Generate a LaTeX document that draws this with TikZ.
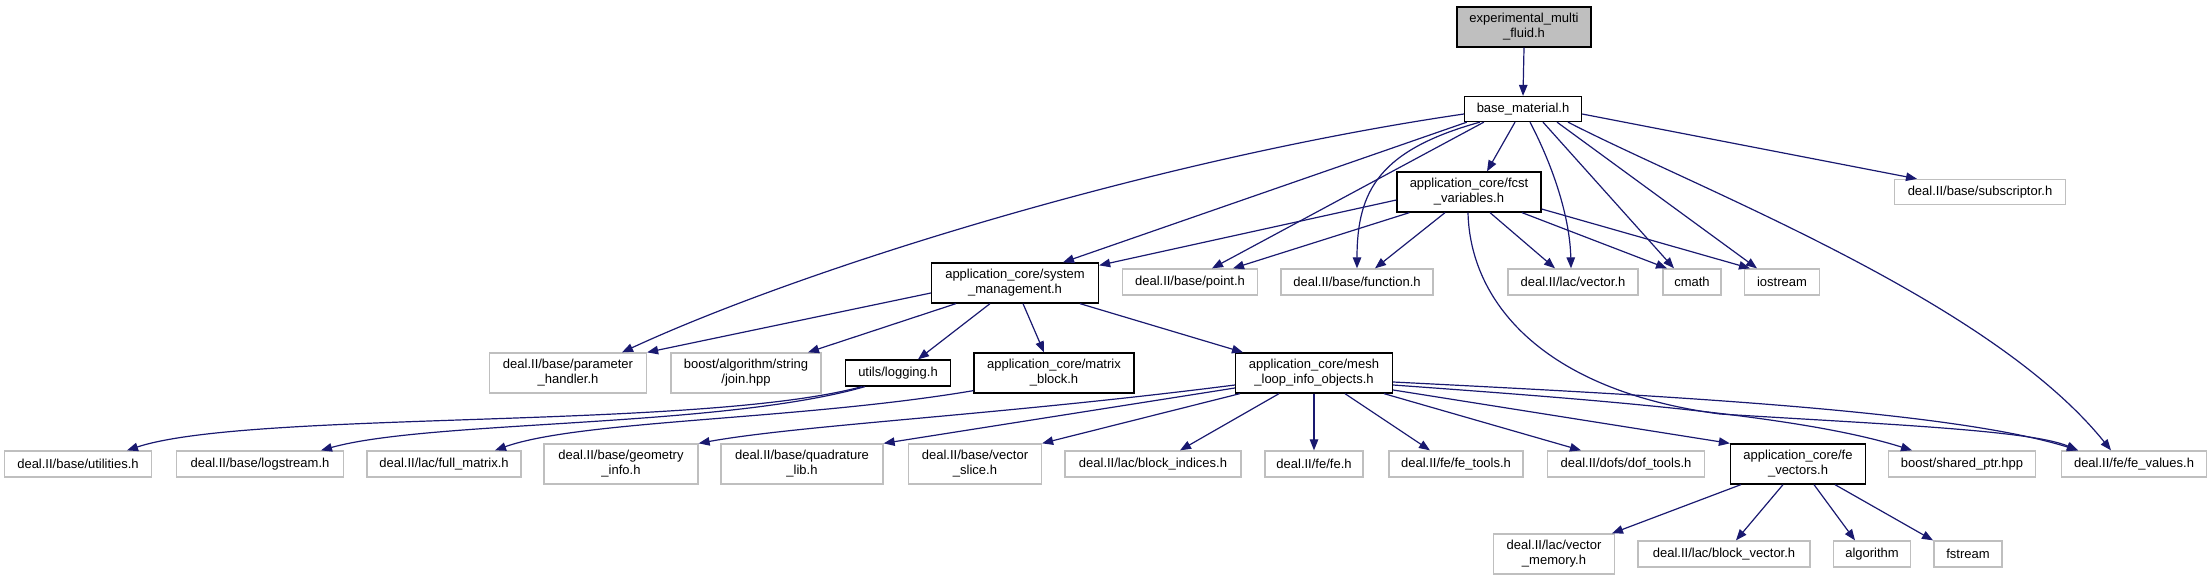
\documentclass[tikz,border=0pt]{standalone}
\usepackage{fontspec}
\setmainfont{Liberation Sans}
\usetikzlibrary{arrows.meta,calc}
\definecolor{edgec}{HTML}{191970}
\definecolor{gbord}{HTML}{BFBFBF}
\tikzset{
  box/.style={rectangle, inner sep=0pt, align=center, font=\fontsize{13}{15}\selectfont, line width=1.3pt},
  gbox/.style={box, draw=gbord},
  bbox/.style={box, draw=black},
  rootbox/.style={box, draw=black, fill=gbord},
  dep/.style={draw=edgec, line width=1.2pt, -{Triangle[length=11pt,width=8.5pt]}},
}
\begin{document}
\begin{tikzpicture}[x=1pt,y=-1pt]
\useasboundingbox (0,0) rectangle (2211,581);
% row 0-2
\node[rootbox, minimum width=134pt, minimum height=40pt] (root) at (1524,27) {experimental\_multi\\\_fluid.h};
\node[bbox, minimum width=117pt, minimum height=25pt] (bm) at (1523,109) {base\_material.h};
\node[bbox, minimum width=144pt, minimum height=40pt] (fcst) at (1469,192) {application\_core/fcst\\\_variables.h};
\node[gbox, minimum width=171pt, minimum height=25pt] (subs) at (1980,192) {deal.II/base/subscriptor.h};
% row 3
\node[bbox, minimum width=167pt, minimum height=40pt] (sysm) at (1015,283) {application\_core/system\\\_management.h};
\node[gbox, minimum width=135pt, minimum height=26pt] (point) at (1190,282) {deal.II/base/point.h};
\node[gbox, minimum width=152pt, minimum height=26pt] (func) at (1357,282) {deal.II/base/function.h};
\node[gbox, minimum width=130pt, minimum height=26pt] (vec) at (1573,282) {deal.II/lac/vector.h};
\node[gbox, minimum width=58pt, minimum height=26pt] (cmath) at (1692,282) {cmath};
\node[gbox, minimum width=75pt, minimum height=26pt] (iostream) at (1782,282) {iostream};
% row 4
\node[gbox, minimum width=157pt, minimum height=40pt] (param) at (568,373) {deal.II/base/parameter\\\_handler.h};
\node[gbox, minimum width=150pt, minimum height=40pt] (join) at (746,373) {boost/algorithm/string\\/join.hpp};
\node[bbox, minimum width=105pt, minimum height=26pt] (logging) at (898,373) {utils/logging.h};
\node[bbox, minimum width=160pt, minimum height=40pt] (matblk) at (1054,373) {application\_core/matrix\\\_block.h};
\node[bbox, minimum width=157pt, minimum height=40pt] (mesh) at (1314,373) {application\_core/mesh\\\_loop\_info\_objects.h};
% row 5
\node[gbox, minimum width=147pt, minimum height=26pt] (utilities) at (78,464) {deal.II/base/utilities.h};
\node[gbox, minimum width=167pt, minimum height=26pt] (logstream) at (260,464) {deal.II/base/logstream.h};
\node[gbox, minimum width=154pt, minimum height=26pt] (fullmat) at (444,464) {deal.II/lac/full\_matrix.h};
\node[gbox, minimum width=154pt, minimum height=40pt] (geom) at (621,464) {deal.II/base/geometry\\\_info.h};
\node[gbox, minimum width=162pt, minimum height=40pt] (quad) at (802,464) {deal.II/base/quadrature\\\_lib.h};
\node[gbox, minimum width=133pt, minimum height=40pt] (vslice) at (975,464) {deal.II/base/vector\\\_slice.h};
\node[gbox, minimum width=176pt, minimum height=26pt] (blkidx) at (1153,464) {deal.II/lac/block\_indices.h};
\node[gbox, minimum width=98pt, minimum height=26pt] (fe) at (1314,464) {deal.II/fe/fe.h};
\node[gbox, minimum width=134pt, minimum height=26pt] (fetools) at (1456,464) {deal.II/fe/fe\_tools.h};
\node[gbox, minimum width=157pt, minimum height=26pt] (doftools) at (1626,464) {deal.II/dofs/dof\_tools.h};
\node[bbox, minimum width=135pt, minimum height=40pt] (fevec) at (1798,464) {application\_core/fe\\\_vectors.h};
\node[gbox, minimum width=147pt, minimum height=26pt] (shptr) at (1962,464) {boost/shared\_ptr.hpp};
\node[gbox, minimum width=145pt, minimum height=26pt] (fevals) at (2134,464) {deal.II/fe/fe\_values.h};
% row 6
\node[gbox, minimum width=121pt, minimum height=40pt] (vmem) at (1554,554) {deal.II/lac/vector\\\_memory.h};
\node[gbox, minimum width=172pt, minimum height=26pt] (blkvec) at (1724,554) {deal.II/lac/block\_vector.h};
\node[gbox, minimum width=77pt, minimum height=26pt] (algo) at (1872,554) {algorithm};
\node[gbox, minimum width=68pt, minimum height=26pt] (fstream) at (1968,554) {fstream};

% edges
\draw[dep] (root.south) -- (bm.north);
\draw[dep] ($(bm.west)+(0,5)$) .. controls (1150,160) and (800,270) .. ($(param.north)+(54,0)$);
\draw[dep] ($(bm.south west)+(3,0)$) -- ($(sysm.north)+(48,0)$);
\draw[dep] ($(bm.south west)+(20,0)$) -- ($(point.north)+(22,0)$);
\draw[dep] ($(bm.south west)+(16,0)$) .. controls (1380,150) and (1357,190) .. (func.north);
\draw[dep] ($(bm.south)+(-8,0)$) -- ($(fcst.north)+(18,0)$);
\draw[dep] ($(bm.south)+(7,0)$) .. controls (1555,170) and (1570,220) .. ($(vec.north)+(-2,0)$);
\draw[dep] ($(bm.south)+(20,0)$) -- ($(cmath.north)+(-18,0)$);
\draw[dep] ($(bm.south)+(34,0)$) -- ($(iostream.north)+(-25,0)$);
\draw[dep] ($(bm.south)+(45,0)$) .. controls (1700,190) and (1990,300) .. ($(fevals.north)+(-23,0)$);
\draw[dep] ($(bm.east)+(0,5)$) -- ($(subs.north)+(-63,0)$);

\draw[dep] ($(fcst.west)+(0,8)$) -- ($(sysm.north east)+(0,3)$);
\draw[dep] ($(fcst.south west)+(13,0)$) -- ($(point.north)+(43,0)$);
\draw[dep] ($(fcst.south)+(-24,0)$) -- ($(func.north)+(18,0)$);
\draw[dep] ($(fcst.south)+(21,0)$) -- ($(vec.north)+(-18,0)$);
\draw[dep] ($(fcst.south)+(53,0)$) -- ($(cmath.north)+(-25,0)$);
\draw[dep] ($(fcst.east)+(0,17)$) -- ($(iostream.north)+(-32,0)$);
\draw[dep] ($(fcst.south)+(-1,0)$) .. controls (1470,300) and (1540,390) .. (1720,414) .. controls (1880,424) and (2030,430) .. ($(fevals.north)+(-56,0)$);

\draw[dep] ($(sysm.west)+(0,10)$) -- (param.north east);
\draw[dep] ($(sysm.south west)+(25,0)$) -- ($(join.north)+(62,0)$);
\draw[dep] ($(sysm.south)+(-25,0)$) -- ($(logging.north)+(20,0)$);
\draw[dep] ($(sysm.south)+(8,0)$) -- ($(matblk.north)+(-10,0)$);
\draw[dep] ($(sysm.south)+(65,0)$) -- ($(mesh.north)+(-71,0)$);

\draw[dep] ($(logging.south west)+(17,0)$) .. controls (700,430) and (250,410) .. ($(utilities.north)+(49,0)$);
\draw[dep] ($(logging.south west)+(20,0)$) .. controls (720,428) and (430,420) .. ($(logstream.north)+(61,0)$);
\draw[dep] ($(matblk.south west)+(0,-3)$) .. controls (800,420) and (580,420) .. ($(fullmat.north)+(51,0)$);

\draw[dep] ($(mesh.west)+(0,12)$) .. controls (1000,415) and (800,425) .. (geom.north east);
\draw[dep] ($(mesh.west)+(0,15)$) -- (quad.north east);
\draw[dep] ($(mesh.south west)+(5,0)$) -- (vslice.north east);
\draw[dep] ($(mesh.south)+(-35,0)$) -- ($(blkidx.north)+(27,0)$);
\draw[dep] (mesh.south) -- (fe.north);
\draw[dep] ($(mesh.south)+(31,0)$) -- ($(fetools.north)+(-26,0)$);
\draw[dep] ($(mesh.south)+(70,0)$) -- ($(doftools.north)+(-45,0)$);
\draw[dep] ($(mesh.east)+(0,17)$) -- (fevec.north west);
\draw[dep] ($(mesh.east)+(0,12)$) .. controls (1600,400) and (1800,415) .. ($(shptr.north)+(-50,0)$);
\draw[dep] ($(mesh.east)+(0,9)$) .. controls (1650,395) and (1950,410) .. ($(fevals.north)+(-56,0)$);

\draw[dep] ($(fevec.south west)+(11,0)$) -- ($(vmem.north)+(58,0)$);
\draw[dep] ($(fevec.south)+(-15,0)$) -- ($(blkvec.north)+(12,0)$);
\draw[dep] ($(fevec.south)+(16,0)$) -- ($(algo.north)+(-17,0)$);
\draw[dep] ($(fevec.south)+(37,0)$) -- ($(fstream.north)+(-35,0)$);
\end{tikzpicture}
\end{document}
